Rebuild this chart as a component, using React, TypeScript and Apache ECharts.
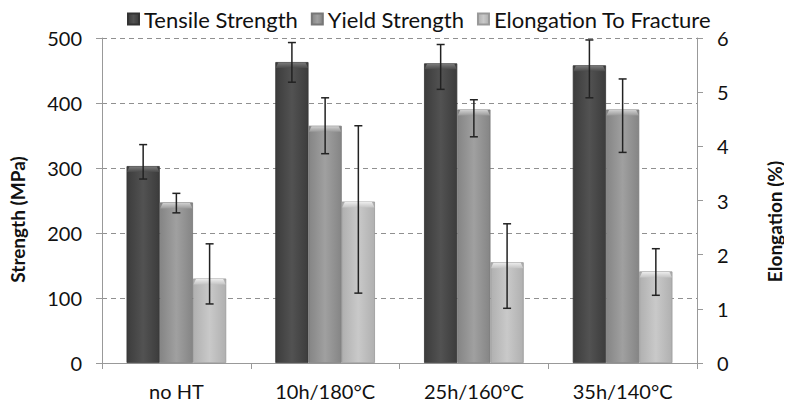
import React, { useEffect, useRef } from "react";
import * as echarts from "echarts";

const categories = ["no HT", "10h/180°C", "25h/160°C", "35h/140°C"];
const seriesNames = ["Tensile Strength", "Yield Strength", "Elongation To Fracture"];
const tensile = [303, 463, 461, 458];
const tensileLow = [283, 432, 421, 408];
const tensileHigh = [336, 493, 490, 497];
const yieldS = [247, 365, 390, 390];
const yieldLow = [231, 322, 348, 324];
const yieldHigh = [261, 408, 405, 437];
const elong = [1.56, 2.98, 1.86, 1.69];
const elongLow = [1.09, 1.29, 1.01, 1.25];
const elongHigh = [2.2, 4.38, 2.57, 2.11];

const FONT = "Lato";
const CAT_GAP = 0.33;

function grad(edge: string, mid: string) {
  return new echarts.graphic.LinearGradient(0, 0, 1, 0, [
    { offset: 0, color: edge },
    { offset: 0.5, color: mid },
    { offset: 1, color: edge },
  ]);
}

function bevelSeries(pos: number, values: number[], yAxisIndex: number, light: string, dark: string) {
  return {
    type: "custom",
    name: "bevel" + pos,
    yAxisIndex,
    z: 5,
    silent: true,
    data: values.map((v, i) => [i, v]),
    encode: { x: 0, y: 1 },
    renderItem: (params: any, api: any) => {
      const idx = api.value(0);
      const top = api.coord([idx, api.value(1)]);
      const band = api.size([1, 0])[0];
      const bw = (band * (1 - CAT_GAP)) / 3;
      const cx = top[0] + (pos - 1) * bw;
      const x0 = cx - bw / 2;
      const x1 = cx + bw / 2;
      const y = top[1];
      const h = 6;
      return {
        type: "polygon",
        shape: {
          points: [
            [x0 + 0.5, y + h],
            [x0 + 3, y + 0.5],
            [x1 - 3, y + 0.5],
            [x1 - 0.5, y + h],
          ],
        },
        style: {
          fill: new echarts.graphic.LinearGradient(0, 0, 0, 1, [
            { offset: 0, color: light },
            { offset: 1, color: dark },
          ]),
        },
      };
    },
  };
}

function errorSeries(pos: number, low: number[], high: number[], yAxisIndex: number) {
  return {
    type: "custom",
    name: "err" + pos,
    yAxisIndex,
    z: 10,
    silent: true,
    data: low.map((l, i) => [i, l, high[i]]),
    encode: { x: 0, y: [1, 2] },
    renderItem: (params: any, api: any) => {
      const idx = api.value(0);
      const lo = api.coord([idx, api.value(1)]);
      const hi = api.coord([idx, api.value(2)]);
      const band = api.size([1, 0])[0];
      const bw = (band * (1 - CAT_GAP)) / 3;
      const x = lo[0] + (pos - 1) * bw;
      const cap = 4;
      const style = { stroke: "#222", lineWidth: 1.5 };
      return {
        type: "group",
        children: [
          { type: "line", shape: { x1: x, y1: lo[1], x2: x, y2: hi[1] }, style },
          { type: "line", shape: { x1: x - cap, y1: lo[1], x2: x + cap, y2: lo[1] }, style },
          { type: "line", shape: { x1: x - cap, y1: hi[1], x2: x + cap, y2: hi[1] }, style },
        ],
      };
    },
  };
}

export default function App() {
  const ref = useRef<HTMLDivElement>(null);
  useEffect(() => {
    const chart = echarts.init(ref.current!, null, { renderer: "svg" });
    const axisLine = { show: true, lineStyle: { color: "#999", width: 1 } };
    chart.setOption({
      animation: false,
      textStyle: { fontFamily: FONT },
      legend: {
        data: seriesNames,
        top: 3,
        left: 122,
        itemWidth: 11,
        itemHeight: 11,
        itemGap: 13,
        icon: "rect",
        textStyle: { fontFamily: FONT, fontSize: 22, color: "#111" },
      },
      grid: { left: 102, right: 85, top: 38, bottom: 49 },
      xAxis: {
        type: "category",
        data: categories,
        axisLine,
        axisTick: { show: true, length: 6, alignWithLabel: false, lineStyle: { color: "#999" } },
        axisLabel: { fontFamily: FONT, fontSize: 20, color: "#111", margin: 18 },
      },
      yAxis: [
        {
          type: "value",
          min: 0,
          max: 500,
          interval: 100,
          name: "Strength (MPa)",
          nameLocation: "middle",
          nameGap: 75,
          nameTextStyle: {
            fontFamily: FONT,
            fontSize: 19,
            fontWeight: "bold",
            color: "#111",
            padding: [0, 38, 0, 0],
          },
          axisLine,
          axisTick: { show: true, length: 6, lineStyle: { color: "#999" } },
          axisLabel: { fontFamily: FONT, fontSize: 20, color: "#111", margin: 20 },
          splitLine: { show: true, lineStyle: { color: "#909090", type: [5, 4], width: 1 } },
        },
        {
          type: "value",
          min: 0,
          max: 6,
          interval: 1,
          position: "right",
          name: "Elongation (%)",
          nameLocation: "middle",
          nameGap: 68,
          nameTextStyle: {
            fontFamily: FONT,
            fontSize: 19,
            fontWeight: "bold",
            color: "#111",
            padding: [0, 42, 0, 0],
          },
          axisLine,
          axisTick: { show: true, length: 6, lineStyle: { color: "#999" } },
          axisLabel: { fontFamily: FONT, fontSize: 20, color: "#111", margin: 20 },
          splitLine: { show: false },
        },
      ],
      series: [
        {
          name: seriesNames[0],
          type: "bar",
          data: tensile,
          barGap: "0%",
          barCategoryGap: CAT_GAP * 100 + "%",
          itemStyle: { color: grad("#3c3c3c", "#525252"), borderColor: "#333", borderWidth: 0.8 },
        },
        {
          name: seriesNames[1],
          type: "bar",
          data: yieldS,
          barGap: "0%",
          barCategoryGap: CAT_GAP * 100 + "%",
          itemStyle: { color: grad("#858585", "#a0a0a0"), borderColor: "#777", borderWidth: 0.8 },
        },
        {
          name: seriesNames[2],
          type: "bar",
          yAxisIndex: 1,
          data: elong,
          barGap: "0%",
          barCategoryGap: CAT_GAP * 100 + "%",
          itemStyle: { color: grad("#b0b0b0", "#c9c9c9"), borderColor: "#999", borderWidth: 0.8 },
        },
        bevelSeries(0, tensile, 0, "#7a7a7a", "#4a4a4a"),
        bevelSeries(1, yieldS, 0, "#d0d0d0", "#9a9a9a"),
        bevelSeries(2, elong, 1, "#ececec", "#c4c4c4"),
        errorSeries(0, tensileLow, tensileHigh, 0),
        errorSeries(1, yieldLow, yieldHigh, 0),
        errorSeries(2, elongLow, elongHigh, 1),
      ],
    });
    return () => chart.dispose();
  }, []);
  return <div ref={ref} style={{ width: 792, height: 412, margin: -8 }} />;
}
